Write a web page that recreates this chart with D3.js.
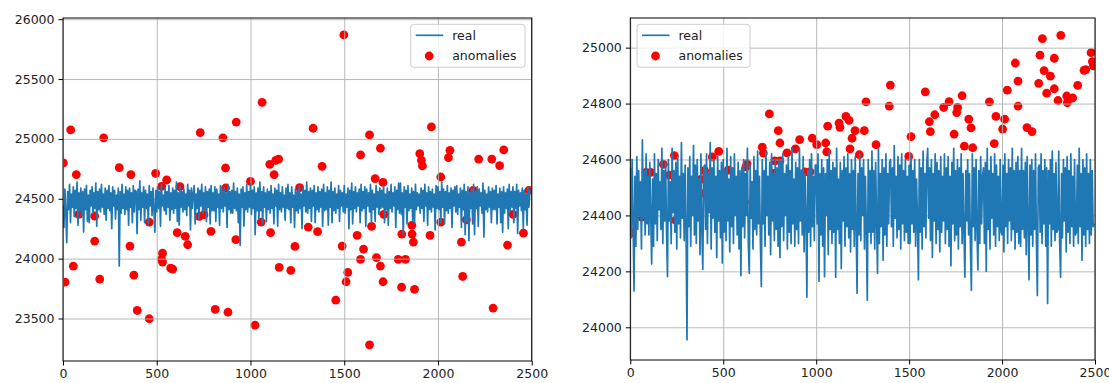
<!DOCTYPE html>
<html>
<head>
<meta charset="utf-8">
<script src="https://cdn.jsdelivr.net/npm/d3@7"></script>
<style>
  body { margin: 0; background: #fff; }
  svg { display: block; font-family: "DejaVu Sans", sans-serif; }
</style>
</head>
<body>
<script>
// x step of the sampled "real" series
var step = 5;

// left panel: real values (every 5 steps, 0..2495), one row = 100 steps
var realLeft = [
  24450, 24260, 24580, 24390, 24133, 24560, 24410, 24620, 24300, 24540, 24430, 24600, 24350, 24570, 24420, 24640, 24280, 24550, 24400, 24590,
  24360, 24560, 24222, 24580, 24410, 24610, 24310, 24530, 24300, 24570, 24440, 24600, 24380, 24550, 24420, 24630, 24270, 24560, 24410, 24580,
  24390, 24620, 24430, 24540, 24370, 24590, 24320, 24570, 24420, 24610, 24400, 24550, 24250, 24600, 24440, 24570, 24330, 24530, 24410, 24590,
  23939, 24560, 24380, 24620, 24420, 24540, 24370, 24600, 24410, 24570, 24280, 24590, 24430, 24550, 24300, 24610, 24390, 24570, 24560, 24208,
  24580, 24410, 24650, 24320, 24550, 24430, 24600, 24300, 24570, 24420, 24540, 24290, 24610, 24440, 24560, 24360, 24590, 24410, 24220, 24570,
  24390, 24600, 24420, 24560, 24270, 24620, 24440, 24530, 24400, 24590, 24370, 24560, 24430, 24610, 24320, 24550, 24410, 24590, 24380, 24570,
  24420, 24640, 24310, 24550, 24280, 24600, 24430, 24560, 24390, 24580, 24410, 24540, 24360, 24620, 24440, 24570, 24240, 24590, 24420, 24550,
  24610, 24290, 24540, 24420, 24590, 24330, 24570, 24440, 24620, 24380, 24550, 24410, 24600, 24310, 24560, 24430, 24580, 24290, 24610, 24400,
  24550, 24400, 24600, 24310, 24580, 24430, 24540, 24280, 24610, 24420, 24570, 24390, 24590, 24440, 24550, 24260, 24620, 24410, 24560, 24380,
  24570, 24380, 24630, 24420, 24560, 24400, 24590, 24300, 24540, 24110, 24580, 24430, 24600, 24270, 24550, 24410, 24620, 24390, 24560, 24430,
  24620, 24370, 24570, 24420, 24600, 24200, 24550, 24400, 24590, 24330, 24640, 24400, 24560, 24290, 24600, 24430, 24550, 24310, 24580, 24410,
  24560, 24380, 24610, 24420, 24540, 24290, 24590, 24440, 24570, 24270, 24620, 24410, 24550, 24390, 24600, 24430, 24530, 24320, 24590, 24420,
  24620, 24410, 24550, 24300, 24600, 24430, 24530, 24260, 24580, 24400, 24560, 24380, 24610, 24420, 24540, 24250, 24590, 24440, 24570, 24390,
  24640, 24380, 24560, 24420, 24590, 24310, 24570, 24440, 24610, 24300, 24550, 24410, 24600, 24390, 24560, 24430, 24580, 24270, 24620, 24400,
  24550, 24410, 24600, 24280, 24570, 24430, 24640, 24300, 24560, 24400, 24590, 24380, 24540, 24420, 24610, 24310, 24570, 24440, 24550, 24390,
  24610, 24380, 24540, 24430, 24590, 24250, 24570, 24410, 24630, 24290, 24560, 24420, 24600, 24390, 24550, 24440, 24580, 24300, 24620, 24400,
  24560, 24420, 24600, 24270, 24580, 24440, 24550, 24390, 24620, 24300, 24570, 24410, 24540, 24310, 24610, 24430, 24560, 24370, 24590, 24420,
  24570, 24430, 24610, 24300, 24540, 24410, 24590, 24280, 24560, 24420, 24620, 24390, 24550, 24440, 24600, 24260, 24570, 24410, 24630, 24380,
  24630, 24370, 24550, 24200, 24600, 24430, 24570, 24290, 24610, 24400, 24540, 24420, 24590, 24320, 24560, 24300, 24620, 24410, 24550, 24440,
  24540, 24380, 24590, 24420, 24570, 24310, 24620, 24440, 24550, 24280, 24600, 24410, 24560, 24390, 24580, 24430, 24540, 24240, 24610, 24420,
  24600, 24410, 24560, 24300, 24640, 24430, 24580, 24290, 24560, 24400, 24610, 24380, 24550, 24420, 24590, 24260, 24570, 24440, 24600, 24390,
  24610, 24370, 24540, 24430, 24590, 24260, 24570, 24410, 24620, 24200, 24560, 24310, 24600, 24150, 24550, 24420, 24580, 24290, 24620, 24200,
  24560, 24420, 24600, 24270, 24580, 24440, 24550, 24380, 24630, 24180, 24570, 24410, 24540, 24390, 24600, 24430, 24560, 24300, 24590, 24410,
  24570, 24410, 24610, 24290, 24540, 24430, 24590, 24300, 24560, 24220, 24600, 24380, 24550, 24420, 24580, 24250, 24620, 24400, 24560, 24430,
  24600, 24300, 24560, 24420, 24620, 24210, 24570, 24440, 24550, 24400, 24590, 24250, 24570, 24410, 24540, 24280, 24600, 24430, 24560, 24570
];

// left panel anomalies [x, value]
var anomLeft = [
  [2, 24799], [41, 25075], [71, 24702], [217, 25008], [300, 24760], [362, 24702],
  [494, 24713], [526, 24604], [553, 24657], [624, 24601], [732, 25053], [853, 25008],
  [867, 24757], [867, 24590], [924, 25141], [1000, 24646], [1062, 25306], [1103, 24788],
  [1126, 24702], [1135, 24821], [1150, 24832], [1262, 24593], [1498, 25869], [1334, 25089],
  [1382, 24771], [1587, 24866], [1635, 25033], [1693, 24922], [1665, 24668], [1707, 24637],
  [1965, 25100], [1903, 24877], [1912, 24821], [1917, 24774], [2015, 24682], [2064, 24905],
  [2056, 24844], [2217, 24832], [2287, 24832], [2329, 24777], [2351, 24908], [2188, 24570],
  [2485, 24570],
  [11, 23804], [55, 23938], [84, 24370], [169, 24356], [169, 24147], [196, 23829],
  [357, 24105], [378, 23862], [396, 23567], [460, 23498], [460, 24305], [526, 23994],
  [531, 24046], [531, 23971], [574, 23921], [585, 23913], [609, 24217], [652, 24186],
  [665, 24116], [727, 24353], [752, 24367], [789, 24228], [812, 23576], [880, 23553],
  [922, 24158], [1024, 23444], [1057, 24305], [1107, 24217], [1153, 23927], [1215, 23902],
  [1237, 24102], [1308, 24264], [1358, 24225], [1455, 23653], [1489, 24105], [1510, 23807],
  [1519, 23885], [1569, 24194], [1587, 23994], [1603, 24080], [1635, 23280], [1646, 24270],
  [1672, 24008], [1693, 23938], [1707, 23807], [1711, 24370], [1788, 23994], [1827, 23994],
  [1806, 23762], [1807, 24205], [1861, 24278], [1862, 24205], [1869, 24138], [1875, 23743],
  [1958, 24194], [2015, 24305], [2125, 24138], [2132, 23851], [2152, 24325], [2294, 23587],
  [2371, 24113], [2401, 24370], [2456, 24213]
];

// right panel: real values (every 5 steps, 0..2495), one row = 100 steps
var realRight = [
  24570, 24320, 24600, 24380, 24130, 24540, 24290, 24610, 24350, 24560, 24400, 24520, 24280, 24670, 24390, 24560, 24330, 24620, 24370, 24540,
  24330, 24590, 24400, 24226, 24530, 24290, 24620, 24370, 24550, 24310, 24600, 24420, 24520, 24350, 24640, 24300, 24560, 24380, 24590, 24340,
  24181, 24600, 24380, 24520, 24300, 24640, 24410, 24560, 24340, 24590, 24280, 24610, 24370, 24540, 24320, 24660, 24390, 24550, 24310, 24580,
  24350, 23955, 24570, 24360, 24610, 24290, 24540, 24400, 24650, 24330, 24580, 24300, 24600, 24380, 24530, 24260, 24620, 24350, 24207, 24570,
  24580, 24350, 24620, 24300, 24550, 24410, 24660, 24280, 24570, 24390, 24600, 24340, 24540, 24250, 24610, 24380, 24560, 24320, 24590, 24230,
  24600, 24340, 24560, 24310, 24640, 24380, 24530, 24270, 24610, 24360, 24570, 24300, 24620, 24400, 24540, 24330, 24590, 24280, 24560, 24185,
  24570, 24360, 24600, 24320, 24550, 24400, 24640, 24300, 24193, 24580, 24390, 24520, 24280, 24610, 24350, 24560, 24330, 24630, 24370, 24540,
  24300, 24146, 24600, 24370, 24560, 24290, 24630, 24400, 24540, 24330, 24590, 24260, 24620, 24380, 24550, 24310, 24600, 24350, 24570, 24290,
  24600, 24250, 24590, 24360, 24620, 24310, 24550, 24400, 24580, 24280, 24610, 24340, 24560, 24300, 24640, 24370, 24530, 24290, 24590, 24350,
  24570, 24300, 24640, 24380, 24560, 24330, 24610, 24270, 24550, 24400, 24108, 24560, 24340, 24600, 24290, 24620, 24360, 24540, 24310, 24580,
  24580, 24370, 24620, 24165, 24550, 24330, 24600, 24290, 24570, 24181, 24550, 24400, 24600, 24260, 24630, 24350, 24560, 24300, 24590, 24340,
  24570, 24179, 24640, 24350, 24530, 24300, 24590, 24210, 24560, 24380, 24610, 24290, 24570, 24360, 24620, 24320, 24550, 24270, 24600, 24350,
  24560, 24290, 24610, 24360, 24122, 24550, 24330, 24620, 24310, 24570, 24400, 24600, 24280, 24540, 24350, 24097, 24600, 24340, 24560, 24300,
  24630, 24340, 24560, 24280, 24590, 24380, 24193, 24640, 24300, 24550, 24360, 24600, 24240, 24570, 24330, 24620, 24290, 24550, 24370, 24590,
  24600, 24360, 24570, 24290, 24650, 24390, 24540, 24320, 24610, 24350, 24580, 24280, 24620, 24370, 24560, 24310, 24600, 24340, 24540, 24300,
  24580, 24300, 24620, 24370, 24560, 24340, 24600, 24290, 24530, 24380, 24170, 24600, 24340, 24570, 24280, 24630, 24360, 24550, 24320, 24590,
  24640, 24390, 24570, 24310, 24600, 24250, 24550, 24380, 24620, 24300, 24590, 24350, 24560, 24270, 24610, 24340, 24540, 24380, 24620, 24300,
  24570, 24350, 24610, 24290, 24540, 24220, 24590, 24370, 24640, 24310, 24560, 24330, 24600, 24280, 24570, 24360, 24620, 24300, 24550, 24340,
  24179, 24560, 24380, 24600, 24330, 24550, 24280, 24132, 24620, 24360, 24570, 24310, 24600, 24350, 24205, 24560, 24300, 24610, 24370, 24540,
  24570, 24300, 24590, 24200, 24640, 24350, 24560, 24280, 24610, 24390, 24550, 24330, 24620, 24290, 24580, 24360, 24540, 24310, 24600, 24340,
  24330, 24580, 24270, 24620, 24360, 24550, 24300, 24600, 24380, 24570, 24310, 24640, 24350, 24560, 24280, 24590, 24340, 24610, 24300, 24560,
  24290, 24640, 24350, 24560, 24320, 24590, 24260, 24610, 24370, 24170, 24580, 24330, 24600, 24290, 24560, 24350, 24620, 24300, 24114, 24570,
  24580, 24340, 24620, 24300, 24560, 24370, 24600, 24290, 24570, 24085, 24560, 24370, 24600, 24290, 24630, 24350, 24550, 24310, 24590, 24340,
  24350, 24630, 24300, 24179, 24550, 24320, 24600, 24380, 24570, 24270, 24610, 24340, 24560, 24300, 24620, 24360, 24540, 24290, 24600, 24330,
  24340, 24580, 24300, 24640, 24360, 24550, 24240, 24600, 24330, 24570, 24290, 24620, 24350, 24550, 24300, 24600, 24330, 24560, 24360, 24370
];

// right panel anomalies [x, value]
var anomRight = [
  [11, 24338], [61, 24394], [84, 24554], [110, 24554], [178, 24583], [210, 24544],
  [237, 24614], [244, 24383], [379, 24529], [379, 24479], [400, 24560], [441, 24609],
  [476, 24629], [526, 24562], [615, 24448], [622, 24574], [628, 24585], [710, 24644],
  [716, 24623], [748, 24763], [773, 24550], [777, 24595], [796, 24703], [805, 24659],
  [805, 24595], [843, 24624], [888, 24638], [911, 24671], [940, 24556], [967, 24556],
  [979, 24676], [1003, 24653], [1051, 24659], [1057, 24627], [1062, 24719], [1119, 24455],
  [1123, 24730], [1128, 24715], [1160, 24754], [1177, 24740], [1182, 24638], [1193, 24676],
  [1209, 24703], [1232, 24617], [1259, 24703], [1268, 24806], [1322, 24653], [1393, 24791],
  [1399, 24866], [1498, 24611], [1510, 24682], [1587, 24842], [1609, 24735], [1614, 24700],
  [1638, 24760], [1686, 24786], [1715, 24807], [1742, 24691], [1756, 24768], [1761, 24786],
  [1785, 24828], [1797, 24648], [1821, 24744], [1833, 24713], [1842, 24642], [1932, 24806],
  [1958, 24657], [1967, 24754], [2003, 24709], [2014, 24744], [2028, 24848], [2071, 24945],
  [2086, 24880], [2086, 24791], [2134, 24714], [2161, 24700], [2197, 24872], [2204, 24973],
  [2217, 25032], [2226, 24918], [2240, 24837], [2260, 24898], [2281, 24962], [2281, 24853],
  [2301, 24811], [2316, 25044], [2348, 24827], [2351, 24803], [2380, 24820], [2407, 24865],
  [2441, 24919], [2450, 24921], [2479, 24982], [2486, 24950], [2491, 24935]
];

var xTicks = [0, 500, 1000, 1500, 2000, 2500];
var yTicksLeft = [23500, 24000, 24500, 25000, 25500, 26000];
var yTicksRight = [24000, 24200, 24400, 24600, 24800, 25000];

var panels = [
  { id: "l", x0: 63, x1: 531.7, y0: 18, y1: 361, ydom: [23145, 26010],
    yTicks: yTicksLeft, real: realLeft, anom: anomLeft, legX: 410.7, legW: 114.3 },
  { id: "r", x0: 630.3, x1: 1095, y0: 18, y1: 360, ydom: [23883, 25106],
    yTicks: yTicksRight, real: realRight, anom: anomRight, legX: 637, legW: 113 }
];

var svg = d3.select("body").append("svg")
  .attr("width", 1109)
  .attr("height", 383);

var fontSize = 12.5;

panels.forEach(function (p) {
  var x = d3.scaleLinear().domain([0, 2500]).range([p.x0, p.x1]);
  var y = d3.scaleLinear().domain(p.ydom).range([p.y1, p.y0]);

  svg.append("clipPath").attr("id", "clip-" + p.id)
    .append("rect")
    .attr("x", p.x0).attr("y", p.y0)
    .attr("width", p.x1 - p.x0).attr("height", p.y1 - p.y0);

  var g = svg.append("g");

  // anomalies (drawn first, the line sits on top)
  g.append("g").attr("clip-path", "url(#clip-" + p.id + ")")
    .selectAll("circle")
    .data(p.anom)
    .join("circle")
    .attr("cx", function (d) { return x(d[0]); })
    .attr("cy", function (d) { return y(d[1]); })
    .attr("r", 4.4)
    .attr("fill", "#ff0000");

  // grid
  g.append("g")
    .attr("transform", "translate(0," + p.y1 + ")")
    .call(d3.axisBottom(x).tickValues(xTicks).tickSize(-(p.y1 - p.y0)).tickFormat(""))
    .call(function (a) {
      a.select(".domain").remove();
      a.selectAll("line").attr("stroke", "#b0b0b0").attr("stroke-width", 1).attr("opacity", 0.9);
    });
  g.append("g")
    .attr("transform", "translate(" + p.x0 + ",0)")
    .call(d3.axisLeft(y).tickValues(p.yTicks).tickSize(-(p.x1 - p.x0)).tickFormat(""))
    .call(function (a) {
      a.select(".domain").remove();
      a.selectAll("line").attr("stroke", "#b0b0b0").attr("stroke-width", 1).attr("opacity", 0.9);
    });

  // real series
  var line = d3.line()
    .x(function (d, i) { return x(i * step); })
    .y(function (d) { return y(d); });

  g.append("path")
    .datum(p.real)
    .attr("clip-path", "url(#clip-" + p.id + ")")
    .attr("fill", "none")
    .attr("stroke", "#1f77b4")
    .attr("stroke-width", 1.7)
    .attr("stroke-linejoin", "round")
    .attr("d", line);

  // frame
  g.append("rect")
    .attr("x", p.x0).attr("y", p.y0)
    .attr("width", p.x1 - p.x0).attr("height", p.y1 - p.y0)
    .attr("fill", "none").attr("stroke", "#000").attr("stroke-width", 1);

  // axes with tick labels
  var ax = g.append("g")
    .attr("transform", "translate(0," + p.y1 + ")")
    .call(d3.axisBottom(x).tickValues(xTicks).tickSize(4.5).tickPadding(4).tickFormat(d3.format("d")));
  var ay = g.append("g")
    .attr("transform", "translate(" + p.x0 + ",0)")
    .call(d3.axisLeft(y).tickValues(p.yTicks).tickSize(4.5).tickPadding(4).tickFormat(d3.format("d")));
  [ax, ay].forEach(function (a) {
    a.select(".domain").remove();
    a.selectAll("line").attr("stroke", "#000").attr("stroke-width", 1);
    a.selectAll("text")
      .attr("fill", "#222")
      .style("font-size", fontSize + "px")
      .style("font-family", "DejaVu Sans, sans-serif");
  });

  // legend
  var lg = g.append("g").attr("transform", "translate(" + p.legX + ",24.3)");
  lg.append("rect")
    .attr("width", p.legW).attr("height", 43)
    .attr("rx", 3)
    .attr("fill", "#fff").attr("fill-opacity", 0.8)
    .attr("stroke", "#cccccc").attr("stroke-width", 1);
  lg.append("line")
    .attr("x1", 5).attr("x2", 32.5).attr("y1", 11).attr("y2", 11)
    .attr("stroke", "#1f77b4").attr("stroke-width", 1.7);
  lg.append("circle")
    .attr("cx", 18.5).attr("cy", 31.7).attr("r", 4.4).attr("fill", "#ff0000");
  lg.append("text").attr("x", 41.5).attr("y", 11).attr("dy", "0.35em")
    .style("font-size", fontSize + "px").attr("fill", "#222").text("real");
  lg.append("text").attr("x", 41.5).attr("y", 31.7).attr("dy", "0.35em")
    .style("font-size", fontSize + "px").attr("fill", "#222").text("anomalies");
});
</script>
</body>
</html>
